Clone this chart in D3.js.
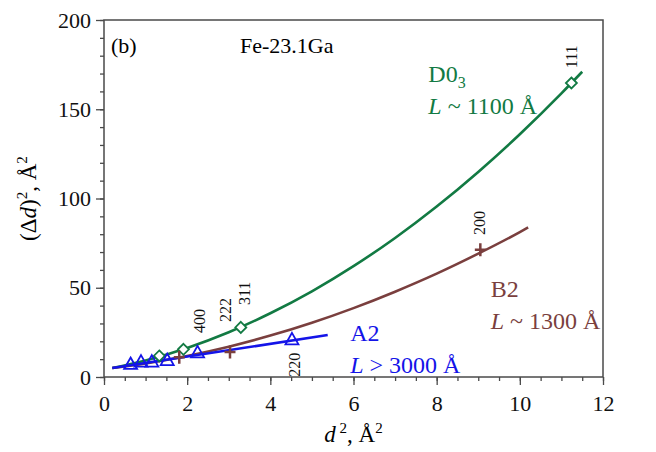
<!DOCTYPE html>
<html>
<head>
<meta charset="utf-8">
<script src="https://cdn.jsdelivr.net/npm/d3@7"></script>
<style>
  body { margin: 0; background: #fff; }
  svg text { font-family: "Liberation Serif", "Times New Roman", Times, serif; }
</style>
</head>
<body>
<script>
// data: x = d^2 (A^2), y = (delta d)^2 (A^2)

// D0_3 phase, open diamonds + fitted curve
var d03X = [1.33, 1.91, 3.29, 11.24];
var d03Y = [11.8, 15.5, 27.8, 164.7];
var d03FitX = [0.2, 1, 2, 3, 4, 5, 6, 7, 8, 9, 10, 11, 11.5];
var d03FitY = [5.0, 9.3, 16.3, 25.1, 35.7, 48.0, 62.1, 77.9, 95.5, 114.9, 136.0, 158.9, 171.0];

// B2 phase, crosses + fitted curve
var b2X = [1.81, 3.03, 9.05];
var b2Y = [11.0, 14.0, 71.3];
var b2FitX = [0.2, 1, 2, 3, 4, 5, 6, 7, 8, 9, 10, 10.2];
var b2FitY = [5.0, 7.6, 11.8, 17.0, 23.2, 30.4, 38.6, 47.8, 57.9, 69.1, 81.2, 83.8];

// A2 phase, open triangles + straight fit
var a2X = [0.64, 0.89, 1.15, 1.52, 2.25, 4.52];
var a2Y = [7.3, 8.6, 8.6, 9.5, 13.8, 21.1];
var a2FitX = [0.2, 5.38];
var a2FitY = [5.0, 23.5];

// reflection labels: centre x and lower end of the vertical text
var reflNames = ['111', '200', '311', '222', '400', '220'];
var reflX = [11.24, 9.03, 3.37, 2.91, 2.29, 4.57];
var reflY = [173, 79.5, 40.3, 30.8, 24.6, 0.2];

var xTicks = [0, 2, 4, 6, 8, 10, 12];
var yTicks = [0, 50, 100, 150, 200];

var green = "#127a43", brown = "#7a3f3e", blue = "#1414e8", axisCol = "#4a4a4a";

var W = 656, H = 452;
var margin = {top: 20, right: 53, bottom: 75, left: 104};
var width = W - margin.left - margin.right,
    height = H - margin.top - margin.bottom;

var x = d3.scaleLinear().domain([0, 12]).range([0, width]);
var y = d3.scaleLinear().domain([0, 200]).range([height, 0]);

var svg = d3.select("body").append("svg")
    .attr("width", W)
    .attr("height", H)
  .append("g")
    .attr("transform", "translate(" + margin.left + "," + margin.top + ")");

// minor ticks first, then major
var xMinor = d3.axisBottom(x).tickValues(d3.range(0, 12.01, 0.5)).tickSize(4).tickFormat("");
var yMinor = d3.axisLeft(y).tickValues(d3.range(0, 200.1, 10)).tickSize(4).tickFormat("");
var xAxis = d3.axisBottom(x).tickValues(xTicks).tickSize(8).tickPadding(10).tickFormat(d3.format("d"));
var yAxis = d3.axisLeft(y).tickValues(yTicks).tickSize(8).tickPadding(5).tickFormat(d3.format("d"));

[xMinor, xAxis].forEach(function(a) {
  svg.append("g").attr("class", "x axis")
     .attr("transform", "translate(0," + height + ")")
     .call(a);
});
[yMinor, yAxis].forEach(function(a) {
  svg.append("g").attr("class", "y axis").call(a);
});
svg.selectAll(".axis").attr("font-family", null).attr("font-size", null);
svg.selectAll(".axis path.domain").remove();
svg.selectAll(".axis line").attr("stroke", axisCol).attr("stroke-width", 1.3);
svg.selectAll(".axis text")
    .style("font-size", "22px")
    .attr("fill", "#111");

// frame
svg.append("rect")
    .attr("x", 0).attr("y", 0)
    .attr("width", width).attr("height", height)
    .attr("fill", "none")
    .attr("stroke", axisCol)
    .attr("stroke-width", 1.5);

var line = d3.line()
    .x(function(d) { return x(d[0]); })
    .y(function(d) { return y(d[1]); })
    .curve(d3.curveMonotoneX);

function drawFit(xs, ys, col) {
  svg.append("path")
      .datum(d3.zip(xs, ys))
      .attr("d", line)
      .attr("fill", "none")
      .attr("stroke", col)
      .attr("stroke-width", 2.6);
}
drawFit(d03FitX, d03FitY, green);
drawFit(b2FitX, b2FitY, brown);
drawFit(a2FitX, a2FitY, blue);

// markers
svg.selectAll(".diamond")
    .data(d3.zip(d03X, d03Y))
  .enter().append("path")
    .attr("class", "diamond")
    .attr("transform", function(d) { return "translate(" + x(d[0]) + "," + y(d[1]) + ")"; })
    .attr("d", "M0,-5.5L5.5,0L0,5.5L-5.5,0Z")
    .attr("fill", "white")
    .attr("stroke", green)
    .attr("stroke-width", 1.8);

svg.selectAll(".cross")
    .data(d3.zip(b2X, b2Y))
  .enter().append("path")
    .attr("class", "cross")
    .attr("transform", function(d) { return "translate(" + x(d[0]) + "," + y(d[1]) + ")"; })
    .attr("d", "M-5.5,0H5.5M0,-6.5V6.5")
    .attr("fill", "none")
    .attr("stroke", brown)
    .attr("stroke-width", 2.5);

svg.selectAll(".tri")
    .data(d3.zip(a2X, a2Y))
  .enter().append("path")
    .attr("class", "tri")
    .attr("transform", function(d) { return "translate(" + x(d[0]) + "," + y(d[1]) + ")"; })
    .attr("d", "M0,-6.5L6.5,5L-6.5,5Z")
    .attr("fill", "none")
    .attr("stroke", blue)
    .attr("stroke-width", 1.8);

// reflection indices (vertical)
reflNames.forEach(function(name, i) {
  svg.append("text")
      .attr("transform", "translate(" + (x(reflX[i]) + 6) + "," + y(reflY[i]) + ") rotate(-90)")
      .attr("text-anchor", "start")
      .style("font-size", "16px")
      .attr("fill", "#111")
      .text(name);
});

// panel labels
svg.append("text").attr("x", 7).attr("y", 33).style("font-size", "22px").text("(b)");
svg.append("text").attr("x", 136).attr("y", 33).style("font-size", "22px").text("Fe-23.1Ga");

function phaseLabel(px, py, col, name, sub, rel, val) {
  var t = svg.append("text").attr("x", x(px)).attr("y", y(py))
      .style("font-size", "24px").attr("fill", col);
  t.append("tspan").text(name);
  if (sub) t.append("tspan").attr("dy", 6).style("font-size", "16px").text(sub);
  var t2 = svg.append("text").attr("x", x(px)).attr("y", y(py) + 32)
      .style("font-size", "24px").attr("fill", col);
  t2.append("tspan").style("font-style", "italic").text("L");
  t2.append("tspan").text(" " + rel + " " + val + " Å");
}
phaseLabel(7.8, 165, green, "D0", "3", "~", "1100");
phaseLabel(9.3, 45, brown, "B2", null, "~", "1300");
phaseLabel(5.92, 20, blue, "A2", null, ">", "3000");

// axis titles
var xt = svg.append("text")
    .attr("x", width / 2)
    .attr("y", height + 65)
    .attr("text-anchor", "middle")
    .style("font-size", "23px");
xt.append("tspan").style("font-style", "italic").text("d");
xt.append("tspan").attr("dy", -9).style("font-size", "15px").text(" 2");
xt.append("tspan").attr("dy", 9).text(", Å");
xt.append("tspan").attr("dy", -9).style("font-size", "15px").text("2");

var yt = svg.append("text")
    .attr("transform", "translate(-68," + (height / 2) + ") rotate(-90)")
    .attr("text-anchor", "middle")
    .style("font-size", "23px");
yt.append("tspan").text("(Δ");
yt.append("tspan").style("font-style", "italic").text("d");
yt.append("tspan").text(")");
yt.append("tspan").attr("dy", -9).style("font-size", "15px").text("2");
yt.append("tspan").attr("dy", 9).text(", Å");
yt.append("tspan").attr("dy", -9).style("font-size", "15px").text("2");
</script>
</body>
</html>
